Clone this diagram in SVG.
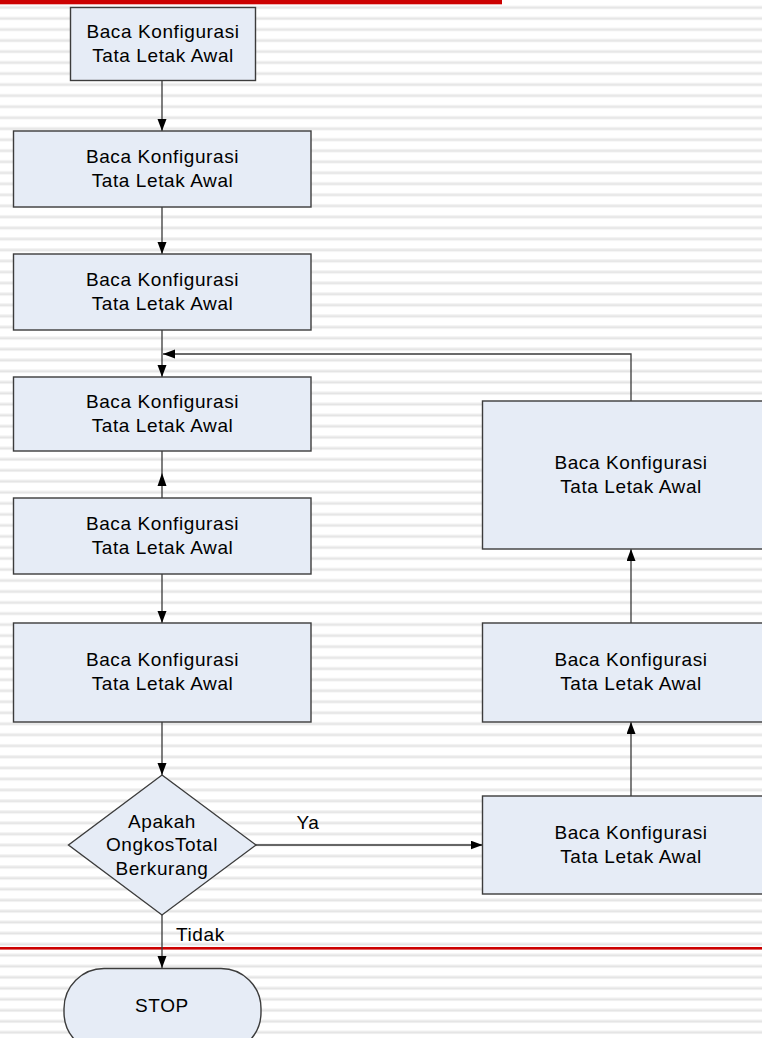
<svg xmlns="http://www.w3.org/2000/svg" width="762" height="1038" viewBox="0 0 762 1038">
<defs>
<pattern id="stripes" patternUnits="userSpaceOnUse" x="0" y="0" width="762" height="11.02">
<rect x="0" y="0" width="762" height="11.02" fill="#ffffff"/>
<rect x="0" y="5.8" width="762" height="1" fill="#f0f0f0"/>
<rect x="0" y="6.8" width="762" height="1.4" fill="#e3e3e3"/>
<rect x="0" y="8.2" width="762" height="1" fill="#f0f0f0"/>
</pattern>
<marker id="arr" markerWidth="13" markerHeight="10" refX="12" refY="4.5" orient="auto" markerUnits="userSpaceOnUse">
<path d="M0,0 L12,4.5 L0,9 Z" fill="#000"/>
</marker>
</defs>
<style>
.box{fill:#e6ecf6;stroke:#3c3c3c;stroke-width:1.4}
.t{font-family:"Liberation Sans",Arial,sans-serif;font-size:19px;letter-spacing:0.6px;fill:#000;text-anchor:middle}
.lbl{font-family:"Liberation Sans",Arial,sans-serif;font-size:19px;letter-spacing:0.6px;fill:#000}
.c{fill:none;stroke:#3a3a3a;stroke-width:1.3}
.head{fill:#000}
</style>
<rect x="0" y="0" width="762" height="1038" fill="url(#stripes)"/>
<rect x="0" y="0" width="502" height="4.3" fill="#cc0000"/>
<rect x="0" y="947" width="762" height="2.6" fill="#cc0000"/>

<g id="connectors">
<line class="c" x1="162" y1="81" x2="162" y2="131" marker-end="url(#arr)"/>
<line class="c" x1="162" y1="207" x2="162" y2="254" marker-end="url(#arr)"/>
<line class="c" x1="162" y1="330" x2="162" y2="377" marker-end="url(#arr)"/>
<line class="c" x1="162" y1="451" x2="162" y2="498"/>
<path class="head" d="M162,473 L166.5,486 L157.5,486 Z"/>
<line class="c" x1="162" y1="574" x2="162" y2="623" marker-end="url(#arr)"/>
<line class="c" x1="162" y1="722" x2="162" y2="775" marker-end="url(#arr)"/>
<line class="c" x1="162" y1="915" x2="162" y2="968" marker-end="url(#arr)"/>
<line class="c" x1="256" y1="845" x2="482.5" y2="845" marker-end="url(#arr)"/>
<line class="c" x1="631" y1="796" x2="631" y2="722" marker-end="url(#arr)"/>
<line class="c" x1="631" y1="623" x2="631" y2="549" marker-end="url(#arr)"/>
<polyline class="c" points="631,401 631,354 163,354" marker-end="url(#arr)"/>
<text class="lbl" x="296.5" y="828.5">Ya</text>
<text class="lbl" x="176" y="941">Tidak</text>
</g>

<g id="n1">
<rect class="box" x="70.5" y="7.5" width="185" height="73"/>
<text class="t" x="163" y="38">Baca Konfigurasi</text>
<text class="t" x="163" y="62">Tata Letak Awal</text>
</g>
<g id="n2">
<rect class="box" x="13.5" y="131" width="297.5" height="76"/>
<text class="t" x="162.5" y="163">Baca Konfigurasi</text>
<text class="t" x="162.5" y="187">Tata Letak Awal</text>
</g>
<g id="n3">
<rect class="box" x="13.5" y="254" width="297.5" height="76"/>
<text class="t" x="162.5" y="286">Baca Konfigurasi</text>
<text class="t" x="162.5" y="310">Tata Letak Awal</text>
</g>
<g id="n4">
<rect class="box" x="13.5" y="377" width="297.5" height="74"/>
<text class="t" x="162.5" y="408">Baca Konfigurasi</text>
<text class="t" x="162.5" y="432">Tata Letak Awal</text>
</g>
<g id="n5">
<rect class="box" x="13.5" y="498" width="297.5" height="76"/>
<text class="t" x="162.5" y="530">Baca Konfigurasi</text>
<text class="t" x="162.5" y="554">Tata Letak Awal</text>
</g>
<g id="n6">
<rect class="box" x="13.5" y="623" width="297.5" height="99"/>
<text class="t" x="162.5" y="666">Baca Konfigurasi</text>
<text class="t" x="162.5" y="690">Tata Letak Awal</text>
</g>
<g id="n7">
<polygon class="box" points="162,775 256,845 162,915 68.5,845"/>
<text class="t" x="162" y="828">Apakah</text>
<text class="t" x="162" y="851">OngkosTotal</text>
<text class="t" x="162" y="875">Berkurang</text>
</g>
<g id="n8">
<rect class="box" x="64" y="968.5" width="197" height="84" rx="40" ry="40"/>
<text class="t" x="162" y="1012">STOP</text>
</g>
<g id="n9">
<rect class="box" x="482.5" y="401" width="297" height="148"/>
<text class="t" x="631" y="469">Baca Konfigurasi</text>
<text class="t" x="631" y="493">Tata Letak Awal</text>
</g>
<g id="n10">
<rect class="box" x="482.5" y="623" width="297" height="99"/>
<text class="t" x="631" y="666">Baca Konfigurasi</text>
<text class="t" x="631" y="690">Tata Letak Awal</text>
</g>
<g id="n11">
<rect class="box" x="482.5" y="796" width="297" height="98"/>
<text class="t" x="631" y="839">Baca Konfigurasi</text>
<text class="t" x="631" y="863">Tata Letak Awal</text>
</g>
</svg>
